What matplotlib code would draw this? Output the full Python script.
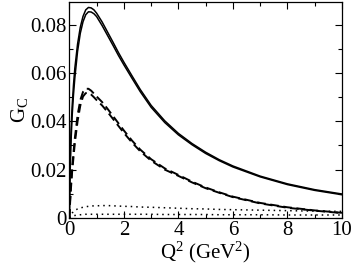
import matplotlib
matplotlib.use("Agg")
import matplotlib.pyplot as plt
from matplotlib.ticker import MultipleLocator

plt.rcParams['font.family'] = ['Liberation Serif', 'DejaVu Serif']
plt.rcParams['mathtext.fontset'] = 'custom'
plt.rcParams['mathtext.rm'] = 'Liberation Serif'
plt.rcParams['mathtext.it'] = 'Liberation Serif:italic'

q2 = [0, 0.02, 0.05, 0.1, 0.15, 0.2, 0.3, 0.4, 0.5, 0.6, 0.7, 0.8, 0.9, 1.0, 1.2, 1.4,
      1.6, 1.8, 2.0, 2.3, 2.6, 3.0, 3.5, 4.0, 4.5, 5.0, 5.5, 6.0, 7.0, 8.0, 9.0, 10.0]

solid_a = [0, 0.018, 0.033, 0.046, 0.055, 0.062, 0.072, 0.079, 0.0835, 0.0862, 0.0872, 0.0870,
           0.0862, 0.0848, 0.0812, 0.0770, 0.0728, 0.0685, 0.0645, 0.0588, 0.0532, 0.0466,
           0.0402, 0.0350, 0.0308, 0.0272, 0.0241, 0.0215, 0.0173, 0.0141, 0.0117, 0.0099]
solid_b = [0, 0.015, 0.029, 0.042, 0.051, 0.058, 0.069, 0.0765, 0.0813, 0.0842, 0.0854, 0.0853,
           0.0846, 0.0834, 0.0797, 0.0756, 0.0715, 0.0673, 0.0634, 0.0578, 0.0523, 0.0458,
           0.0395, 0.0344, 0.0303, 0.0267, 0.0237, 0.0211, 0.0170, 0.0138, 0.0114, 0.0096]

dash_a = [0, 0.006, 0.013, 0.021, 0.027, 0.033, 0.0425, 0.0488, 0.0522, 0.0535, 0.0535, 0.0527,
          0.0515, 0.0503, 0.0480, 0.0452, 0.0422, 0.0392, 0.0362, 0.0320, 0.0283, 0.0243,
          0.0205, 0.0178, 0.0150, 0.0126, 0.0106, 0.0088, 0.0062, 0.0044, 0.0031, 0.0021]
dash_b = [0, 0.005, 0.011, 0.019, 0.025, 0.031, 0.0400, 0.0465, 0.0503, 0.0517, 0.0518, 0.0511,
          0.0500, 0.0488, 0.0466, 0.0439, 0.0410, 0.0381, 0.0352, 0.0312, 0.0276, 0.0237,
          0.0200, 0.0174, 0.0147, 0.0123, 0.0104, 0.0086, 0.0060, 0.0042, 0.0030, 0.0020]

dot_a = [0, 0.0005, 0.0012, 0.0020, 0.0026, 0.0031, 0.0037, 0.0041, 0.0044, 0.0046, 0.0048, 0.0049,
         0.0050, 0.0050, 0.0051, 0.0051, 0.0050, 0.0049, 0.0048, 0.0047, 0.0045, 0.0044,
         0.0042, 0.0040, 0.0038, 0.0037, 0.0035, 0.0034, 0.0032, 0.0030, 0.0028, 0.0027]
dot_b = [0, 0.0002, 0.0004, 0.0007, 0.0009, 0.0010, 0.0012, 0.0013, 0.0014, 0.0015, 0.0015, 0.0015,
         0.0015, 0.0015, 0.0015, 0.0015, 0.0015, 0.0015, 0.0015, 0.0015, 0.0015, 0.0015,
         0.0014, 0.0014, 0.0014, 0.0014, 0.0013, 0.0013, 0.0013, 0.0012, 0.0012, 0.0012]

fig = plt.figure(figsize=(3.54, 2.70), dpi=100)
ax = fig.add_axes([0.196, 0.193, 0.770, 0.800])

ax.plot(q2, solid_a, color='black', lw=1.1)
ax.plot(q2, solid_b, color='black', lw=1.1)
ax.plot(q2, dash_a, color='black', lw=1.4, dashes=(4.5, 2.3))
ax.plot(q2, dash_b, color='black', lw=1.4, dashes=(4.5, 2.3))
ax.plot(q2, dot_a, color='black', lw=1.1, dashes=(1, 2.6))
ax.plot(q2, dot_b, color='black', lw=1.1, dashes=(1, 2.6))

ax.set_xlim(0, 10)
ax.set_ylim(0, 0.0895)
ax.xaxis.set_minor_locator(MultipleLocator(1))
ax.yaxis.set_minor_locator(MultipleLocator(0.01))
ax.set_xticks([0, 2, 4, 6, 8, 10])
ax.set_xticklabels(['0', '2', '4', '6', '8', '10'])
ax.set_yticks([0, 0.02, 0.04, 0.06, 0.08])
ax.set_yticklabels(['0', '0.02', '0.04', '0.06', '0.08'])
ax.tick_params(which='both', direction='in', top=True, right=True, labelsize=15, pad=2)
ax.tick_params(which='major', length=5, width=0.8)
ax.tick_params(which='minor', length=3, width=0.8)
for s in ax.spines.values():
    s.set_linewidth(0.9)

ax.set_xlabel(r'Q$^2$ (GeV$^2$)', fontsize=15, labelpad=0)
ax.set_ylabel(r'G$_\mathrm{C}$', fontsize=15, labelpad=0)

fig.savefig('out.png', dpi=100)
